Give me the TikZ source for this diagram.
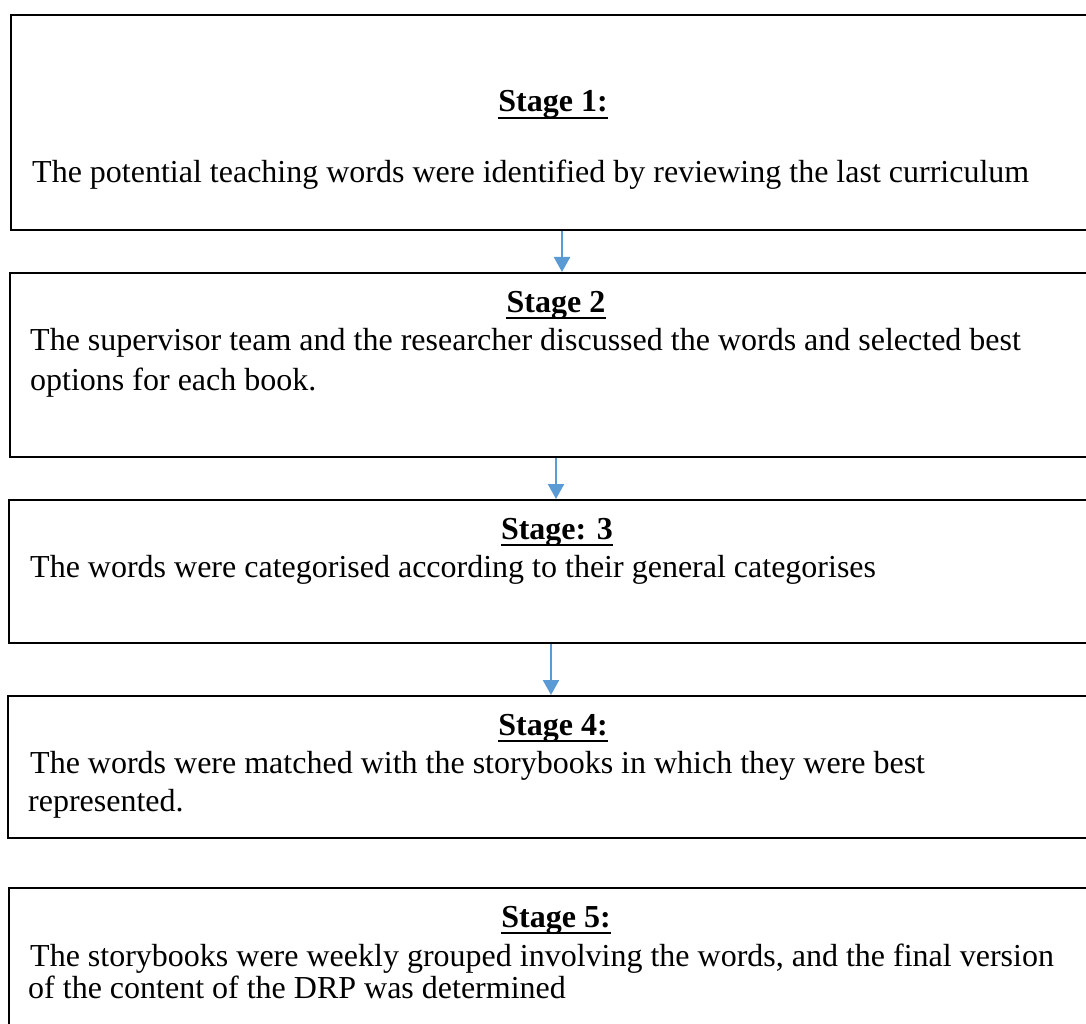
\documentclass[tikz,border=0pt]{standalone}
\usepackage{fontspec}
\setmainfont{Liberation Serif}
\usetikzlibrary{arrows.meta}
\definecolor{flowblue}{HTML}{5B9BD5}
\begin{document}
\begin{tikzpicture}[x=1pt,y=-1pt,
  stagebox/.style={draw, line width=2.2pt, anchor=north west, inner sep=0pt, minimum width=1100pt},
  body/.style={anchor=base west, inner sep=0pt, font=\fontsize{32}{38}\selectfont},
  head/.style={anchor=base, inner sep=0pt, font=\fontsize{32}{38}\selectfont\bfseries},
  uline/.style={line width=2.4pt},
  flow/.style={draw=flowblue, line width=2.4pt, -{Triangle[width=16pt,length=15pt]}}]
\useasboundingbox (0,0) rectangle (1086,1024);

% stage frames (open to the right)
\node[stagebox, minimum height=215pt] (b1) at (10,14) {};
\node[stagebox, minimum height=184pt] (b2) at (9,272) {};
\node[stagebox, minimum height=143pt] (b3) at (8,499) {};
\node[stagebox, minimum height=142pt] (b4) at (7,695) {};
\node[stagebox, minimum height=200pt] (b5) at (8,887) {};

% headings with underline
\node[head] (h1) at (553,112) {Stage 1:};
\node[head] (h2) at (556,312) {Stage 2};
\node[head] (h3) at (557,539) {Stage: 3};
\node[head] (h4) at (553,735) {Stage 4:};
\node[head] (h5) at (556,927) {Stage 5:};
\foreach \h in {h1,h2,h3,h4,h5}
  \draw[uline] ([yshift=-6pt]\h.base west) -- ([yshift=-6pt]\h.base east);

% stage descriptions
\node[body] (t1) at (32,183) {The potential teaching words were identified by reviewing the last curriculum};
\node[body] (t2a) at (30,350) {The supervisor team and the researcher discussed the words and selected best};
\node[body] (t2b) at (30,390) {options for each book.};
\node[body] (t3) at (30,577) {The words were categorised according to their general categorises};
\node[body] (t4a) at (30,773) {The words were matched with the storybooks in which they were best};
\node[body] (t4b) at (28,811) {represented.};
\node[body] (t5a) at (30,966) {The storybooks were weekly grouped involving the words, and the final version};
\node[body] (t5b) at (28,998) {of the content of the DRP was determined};

% flow arrows between stages
\draw[flow] ([xshift=552pt]b1.south west) -- ([xshift=553pt]b2.north west);
\draw[flow] ([xshift=547pt]b2.south west) -- ([xshift=548pt]b3.north west);
\draw[flow] ([xshift=543pt]b3.south west) -- ([xshift=544pt]b4.north west);
\end{tikzpicture}
\end{document}
